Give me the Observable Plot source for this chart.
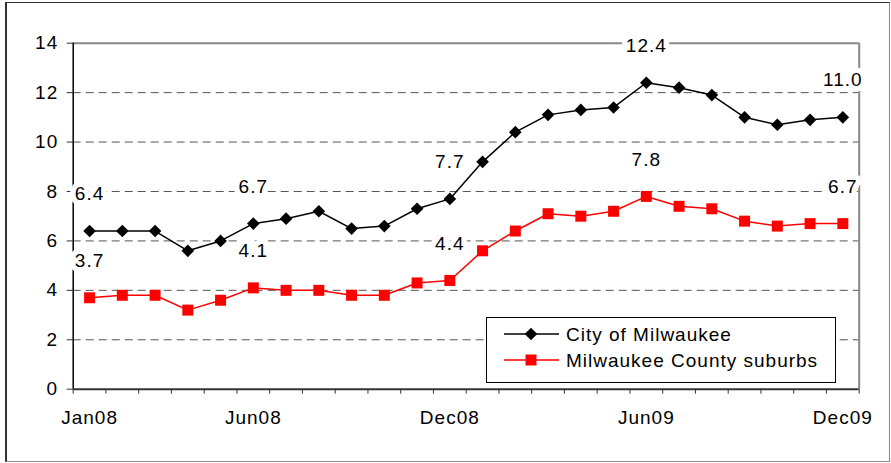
<!DOCTYPE html>
<html>
<head>
<meta charset="utf-8">
<script src="https://cdn.jsdelivr.net/npm/d3@7"></script>
<script src="https://cdn.jsdelivr.net/npm/@observablehq/plot@0.6"></script>
<style>
  body { margin: 0; background: #fff; }
  #wrap { position: relative; width: 891px; height: 463px; background: #fff; font-family: "Liberation Sans", Arial, sans-serif; }
  #frame { position: absolute; left: 5px; top: 2px; width: 882px; height: 458px;
           border-left: 2px solid #333; border-top: 1.5px solid #333; border-bottom: 1.5px solid #888; border-right: 1.5px solid #888;
           pointer-events: none; }
  #legend { position: absolute; left: 486px; top: 317px; width: 348px; height: 64px; border: 1px solid #000; background: #fff; }
</style>
</head>
<body>
<div id="wrap">
  <div id="chart"></div>
  <div id="frame"></div>
  <div id="legend"></div>
</div>
<script>
// ---- data ----
const months = ["Jan08","Feb08","Mar08","Apr08","May08","Jun08","Jul08","Aug08","Sep08","Oct08","Nov08","Dec08",
                "Jan09","Feb09","Mar09","Apr09","May09","Jun09","Jul09","Aug09","Sep09","Oct09","Nov09","Dec09"];
const city    = [6.4, 6.4, 6.4, 5.6, 6.0, 6.7, 6.9, 7.2, 6.5, 6.6, 7.3, 7.7,
                 9.2, 10.4, 11.1, 11.3, 11.4, 12.4, 12.2, 11.9, 11.0, 10.7, 10.9, 11.0];
const suburbs = [3.7, 3.8, 3.8, 3.2, 3.6, 4.1, 4.0, 4.0, 3.8, 3.8, 4.3, 4.4,
                 5.6, 6.4, 7.1, 7.0, 7.2, 7.8, 7.4, 7.3, 6.8, 6.6, 6.7, 6.7];
const seriesNames = ["City of Milwaukee", "Milwaukee County suburbs"];
const labelIdx = [0, 5, 11, 17, 23];
const tickLabelIdx = [0, 5, 11, 17, 23];
const yTicks = [0, 2, 4, 6, 8, 10, 12, 14];
const gridTicks = [2, 4, 6, 8, 10, 12];

const cityRows = city.map((v, i) => ({i, v}));
const subRows = suburbs.map((v, i) => ({i, v}));
const bounds = d3.range(0, months.length + 1).map(k => k - 0.5);

const font = "19px";
const chart = Plot.plot({
  width: 891, height: 463,
  marginLeft: 72.7, marginRight: 32.3, marginTop: 42.7, marginBottom: 74.3,
  x: {domain: [-0.5, months.length - 0.5]},
  y: {domain: [0, 14]},
  style: {fontFamily: "'Liberation Sans', Arial, sans-serif", fontSize: font, letterSpacing: "1px", color: "#000", background: "#fff"},
  marks: [
    Plot.gridY(gridTicks, {stroke: "#555", strokeOpacity: 1, strokeDasharray: "8,5", strokeWidth: 1}),
    Plot.ruleY([14], {stroke: "#888", strokeWidth: 2}),
    Plot.ruleX([months.length - 0.5], {stroke: "#888", strokeWidth: 2}),
    Plot.axisY(yTicks, {tickSize: 6, tickPadding: 9, label: null, stroke: "#333", fontSize: font}),
    Plot.axisX(bounds, {tickSize: 5, tickFormat: () => "", label: null, stroke: "#333"}),
    Plot.axisX(tickLabelIdx, {tickSize: 0, tickPadding: 21, tickFormat: i => months[i], label: null, fontSize: font}),
    Plot.ruleX([-0.5], {stroke: "#000", strokeWidth: 1.5}),
    Plot.ruleY([0], {stroke: "#333", strokeWidth: 2}),
    Plot.line(subRows, {x: "i", y: "v", stroke: "#ff0000", strokeWidth: 1.5}),
    Plot.dot(subRows, {x: "i", y: "v", symbol: "square", r: 6.2, fill: "#ff0000", stroke: "none"}),
    Plot.line(cityRows, {x: "i", y: "v", stroke: "#000", strokeWidth: 1.5}),
    Plot.dot(cityRows, {x: "i", y: "v", symbol: "diamond2", r: 5.7, fill: "#000", stroke: "none"}),
    Plot.text(labelIdx, {x: i => i, y: i => city[i], text: i => city[i].toFixed(1), dy: -37,
      fill: "#000", stroke: "#fff", strokeWidth: 11, strokeLinejoin: "round", paintOrder: "stroke", fontSize: font}),
    Plot.text(labelIdx, {x: i => i, y: i => suburbs[i], text: i => suburbs[i].toFixed(1), dy: -37,
      fill: "#000", stroke: "#fff", strokeWidth: 11, strokeLinejoin: "round", paintOrder: "stroke", fontSize: font})
  ]
});
document.getElementById("chart").appendChild(chart);

// ---- legend ----
const lg = d3.select("#legend").append("svg").attr("width", 348).attr("height", 64)
  .style("font-family", "'Liberation Sans', Arial, sans-serif").style("font-size", font).style("letter-spacing", "1px");
const rows = [
  {name: seriesNames[0], color: "#000", sym: d3.symbolDiamond2, size: Math.PI * 5.7 * 5.7, y: 16},
  {name: seriesNames[1], color: "#ff0000", sym: d3.symbolSquare, size: Math.PI * 6.2 * 6.2, y: 42}
];
rows.forEach(r => {
  lg.append("line").attr("x1", 17).attr("x2", 72).attr("y1", r.y).attr("y2", r.y).attr("stroke", r.color).attr("stroke-width", 1.5);
  lg.append("path").attr("d", d3.symbol(r.sym, r.size)()).attr("transform", `translate(44,${r.y})`).attr("fill", r.color);
  lg.append("text").attr("x", 79).attr("y", r.y).attr("dy", "0.35em").text(r.name);
});
</script>
</body>
</html>
